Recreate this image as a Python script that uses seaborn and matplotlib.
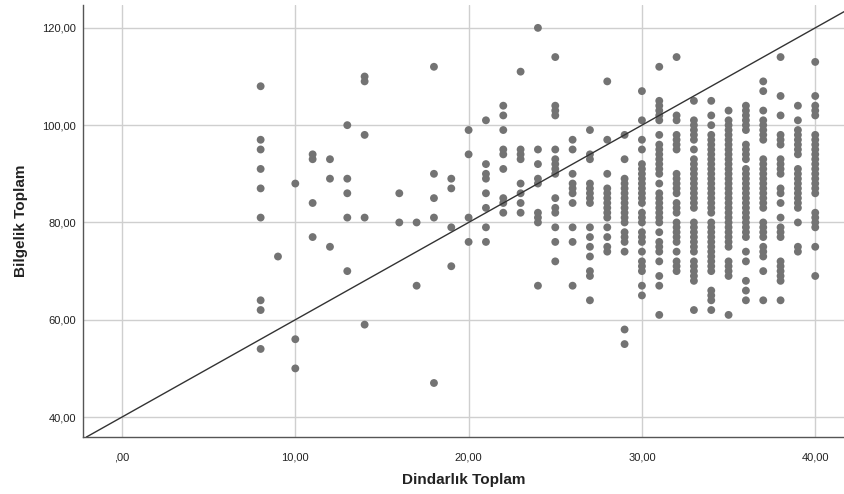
import matplotlib
matplotlib.use("Agg")
import matplotlib.pyplot as plt
from matplotlib.ticker import FuncFormatter
import seaborn as sns
import pandas as pd

# ---- data: Bilgelik Toplam values observed at each Dindarlik Toplam level ----
bilgelik_08 = [108, 97, 95, 91, 87, 81, 64, 62, 54]
bilgelik_09 = [73]
bilgelik_10 = [88, 56, 50]
bilgelik_11 = [94, 93, 84, 77]
bilgelik_12 = [93, 89, 75]
bilgelik_13 = [100, 89, 86, 81, 70]
bilgelik_14 = [110, 109, 98, 81, 59]
bilgelik_16 = [86, 80]
bilgelik_17 = [80, 67]
bilgelik_18 = [112, 90, 85, 81, 47]
bilgelik_19 = [89, 87, 79, 71]
bilgelik_20 = [99, 94, 81, 76]
bilgelik_21 = [101, 92, 90, 89, 86, 83, 79, 76]
bilgelik_22 = [104, 102, 99, 95, 94, 91, 85, 84, 82]
bilgelik_23 = [111, 95, 94, 93, 88, 86, 84, 82]
bilgelik_24 = [120, 95, 92, 89, 88, 82, 81, 80, 67]
bilgelik_25 = [114, 104, 103, 102, 95, 93, 92, 91, 90, 85, 83, 82, 79, 76, 72]
bilgelik_26 = [97, 95, 90, 88, 87, 86, 84, 79, 76, 67]
bilgelik_27 = [99, 94, 93, 88, 87, 86, 85, 84, 79, 77, 75, 73, 70, 69, 64]
bilgelik_28 = [109, 97, 90, 87, 86, 85, 84, 83, 82, 81, 79, 77, 75, 74]
bilgelik_29 = [98, 93, 89, 88, 87, 86, 85, 84, 83, 82, 81, 80, 78, 77, 76, 74, 58, 55]
bilgelik_30 = [107, 101, 97, 95, 92, 91, 90, 89, 88, 87, 86, 85, 84, 82, 81, 80,
               78, 77, 76, 74, 72, 71, 70, 67, 65]
bilgelik_31 = [112, 105, 104, 103, 102, 101, 98, 96, 95, 94, 93, 92, 91, 90, 88, 86,
               85, 84, 83, 82, 81, 80, 78, 76, 75, 74, 72, 69, 67, 61]
bilgelik_32 = [114, 102, 101, 98, 97, 96, 95, 90, 89, 88, 87, 86, 84, 83, 82, 80,
               79, 78, 77, 76, 74, 72, 71, 70]
bilgelik_33 = [105, 101, 100, 99, 98, 97, 95, 93, 92, 91, 90, 89, 88, 87, 86, 85,
               84, 83, 80, 79, 78, 77, 76, 75, 74, 72, 71, 70, 69, 68, 62]
bilgelik_34 = [105, 102, 100, 98, 97, 96, 95, 94, 93, 92, 91, 90, 89, 88, 87, 86,
               85, 84, 83, 82, 80, 79, 78, 77, 76, 75, 74, 73, 72, 71, 70, 66,
               65, 64, 62]
bilgelik_35 = [103, 101, 100, 99, 98, 97, 96, 95, 94, 93, 92, 91, 90, 89, 88, 87,
               86, 85, 84, 83, 82, 81, 80, 79, 78, 77, 76, 75, 72, 71, 70, 69, 61]
bilgelik_36 = [104, 103, 102, 101, 100, 99, 96, 95, 94, 93, 91, 90, 89, 88, 87, 86,
               85, 84, 83, 82, 81, 80, 79, 78, 77, 74, 72, 68, 66, 64]
bilgelik_37 = [109, 107, 103, 101, 100, 99, 98, 97, 93, 92, 91, 90, 89, 88, 87, 86,
               85, 84, 83, 80, 79, 78, 77, 75, 74, 73, 70, 64]
bilgelik_38 = [114, 106, 102, 98, 97, 96, 93, 92, 91, 90, 87, 86, 84, 81, 79, 78,
               77, 72, 71, 70, 69, 68, 64]
bilgelik_39 = [104, 101, 99, 98, 97, 96, 95, 94, 91, 90, 89, 88, 87, 86, 85, 84,
               83, 80, 75, 74]
bilgelik_40 = [113, 106, 104, 103, 102, 98, 97, 96, 95, 94, 93, 92, 91, 90, 89, 88,
               87, 86, 82, 81, 80, 79, 75, 69]

dindarlik_levels = [8, 9, 10, 11, 12, 13, 14, 16, 17, 18, 19, 20, 21, 22, 23, 24,
                    25, 26, 27, 28, 29, 30, 31, 32, 33, 34, 35, 36, 37, 38, 39, 40]
bilgelik_columns = [bilgelik_08, bilgelik_09, bilgelik_10, bilgelik_11, bilgelik_12,
                    bilgelik_13, bilgelik_14, bilgelik_16, bilgelik_17, bilgelik_18,
                    bilgelik_19, bilgelik_20, bilgelik_21, bilgelik_22, bilgelik_23,
                    bilgelik_24, bilgelik_25, bilgelik_26, bilgelik_27, bilgelik_28,
                    bilgelik_29, bilgelik_30, bilgelik_31, bilgelik_32, bilgelik_33,
                    bilgelik_34, bilgelik_35, bilgelik_36, bilgelik_37, bilgelik_38,
                    bilgelik_39, bilgelik_40]

x_ticks = [0, 10, 20, 30, 40]
y_ticks = [40, 60, 80, 100, 120]
ref_intercept = 40
ref_slope = 2
x_label = "Dindarlık Toplam"
y_label = "Bilgelik Toplam"

rows = []
for lvl, col in zip(dindarlik_levels, bilgelik_columns):
    for v in col:
        rows.append((lvl, v))
df = pd.DataFrame(rows, columns=["Dindarlik", "Bilgelik"])

# ---- style ----
sns.set_theme(style="white")
plt.rcParams["font.family"] = ["Liberation Sans", "DejaVu Sans"]

fig = plt.figure(figsize=(8.44, 4.94), dpi=100)
ax = fig.add_axes([83 / 844, 57 / 494, 761 / 844, 432 / 494])

sns.scatterplot(data=df, x="Dindarlik", y="Bilgelik", ax=ax, s=32,
                color="#737373", edgecolor="none", linewidth=0, zorder=3)

ax.axline((0, ref_intercept), slope=ref_slope, color="#333333", linewidth=1.0, zorder=4)

ax.set_xlim(-2.25, 41.66)
ax.set_ylim(35.9, 124.7)
ax.set_xticks(x_ticks)
ax.set_yticks(y_ticks)


def comma_fmt(v, pos):
    s = f"{v:.2f}".replace(".", ",")
    if s.startswith("0,"):
        s = s[1:]
    return s


ax.xaxis.set_major_formatter(FuncFormatter(comma_fmt))
ax.yaxis.set_major_formatter(FuncFormatter(comma_fmt))
ax.tick_params(axis="both", length=0, labelsize=8, colors="#222222")
ax.tick_params(axis="x", pad=11)
ax.tick_params(axis="y", pad=5)

ax.grid(True, color="#cfcfcf", linewidth=1.0, zorder=0)
ax.set_axisbelow(True)
for side in ["top", "right"]:
    ax.spines[side].set_visible(False)
for side in ["left", "bottom"]:
    ax.spines[side].set_color("#555555")
    ax.spines[side].set_linewidth(1.0)

ax.set_xlabel(x_label, fontsize=11, fontweight="bold", color="#222222", labelpad=8)
ax.set_ylabel(y_label, fontsize=11, fontweight="bold", color="#222222", labelpad=10)

fig.savefig("out.png", dpi=100, facecolor="white")
